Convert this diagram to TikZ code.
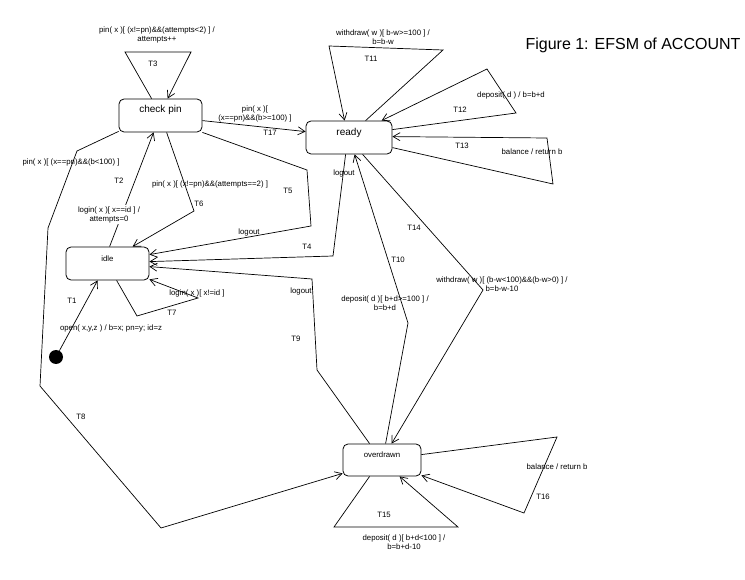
\documentclass[tikz,border=0pt]{standalone}
\usepackage{fontspec}
\setmainfont{Liberation Sans}
\usetikzlibrary{arrows.meta}
\begin{document}
\begin{tikzpicture}[x=1pt,y=-1pt,
  state/.style={draw, rounded corners=5pt, line width=0.8pt, inner sep=0pt},
  stxt/.style={font=\fontsize{10}{12}\selectfont, inner sep=0pt},
  stxs/.style={font=\fontsize{7.8}{9}\selectfont, inner sep=0pt},
  lbl/.style={font=\fontsize{7.8}{9}\selectfont, align=center, inner sep=0pt},
  tr/.style={line width=0.7pt, -{Straight Barb[length=7pt,width=8pt]}},
]
\useasboundingbox (0,0) rectangle (745,580);
% states
\node[state, minimum width=83pt, minimum height=33pt, label={[stxt, yshift=5.5pt]center:check pin}] (cp) at (160.5,115.5) {};
\node[state, minimum width=86pt, minimum height=33pt, label={[stxt, yshift=4.5pt]center:ready}] (rd) at (349,137.5) {};
\node[state, minimum width=83pt, minimum height=33pt, label={[stxs, yshift=4.5pt]center:idle}] (idle) at (107.5,263.5) {};
\node[state, minimum width=78pt, minimum height=32pt, label={[stxs, yshift=5pt]center:overdrawn}] (od) at (382,460) {};
\node[circle, fill, inner sep=0pt, minimum size=14pt] (init) at (56,357) {};
\node[font=\fontsize{16}{19}\selectfont, inner sep=0pt] (title) at (633,45) {Figure 1: EFSM of ACCOUNT};

% T1
\draw[tr] (init) -- ([xshift=32pt]idle.south west);
\node[lbl] (l1) at (111,328) {open( x,y,z ) / b=x; pn=y; id=z};
\node[lbl] (t1) at (72,301) {T1};
% T2
\draw[tr] ([xshift=44pt]idle.north west) -- ([xshift=35pt]cp.south west);
\node[lbl, fill=white, inner sep=1pt] (l2) at (109,214.5) {login( x )[ x==id ] /\\attempts=0};
\node[lbl] (t2) at (119,181) {T2};
% T3
\draw[tr] ([xshift=33pt]cp.north west) -- (125,52) -- (191,52) -- ([xshift=49pt]cp.north west);
\node[lbl] (l3) at (157,34.5) {pin( x )[ (x!=pn)\&\&(attempts<2) ] /\\attempts++};
\node[lbl] (t3) at (153,64) {T3};
% T4
\draw[tr] ([xshift=40pt]rd.south west) -- (333,256) -- ([yshift=-15pt]idle.north east);
\node[lbl] (l4) at (344,173) {logout};
\node[lbl] (t4) at (307,247) {T4};
% T5
\draw[tr] (cp.south east) -- (307,170) -- (311,226) -- ([yshift=-8pt]idle.north east);
\node[lbl] (l5) at (249,232) {logout};
\node[lbl] (t5) at (288,191) {T5};
% T6
\draw[tr] ([xshift=48pt]cp.south west) -- (194,211) -- ([xshift=67pt]idle.north west);
\node[lbl] (l6) at (210,184) {pin( x )[ (x!=pn)\&\&(attempts==2) ]};
\node[lbl] (t6) at (199,204) {T6};
% T7
\draw[tr] ([xshift=51pt]idle.south west) -- (137,316) -- (198,298) -- ([yshift=1pt]idle.south east);
\node[lbl] (l7) at (197,293) {login( x )[ x!=id ]};
\node[lbl] (t7) at (172,313) {T7};
% T8
\draw[tr] ([yshift=1pt]cp.south west) -- (77,151) -- (48,228) -- (40,386) -- (161,528) -- ([yshift=3pt]od.south west);
\node[lbl] (l8) at (71,162) {pin( x )[ (x==pn)\&\&(b<100) ]};
\node[lbl] (t8) at (81,417) {T8};
% T9
\draw[tr] ([xshift=27pt]od.north west) -- (317,370) -- (312,279) -- ([yshift=-20pt]idle.north east);
\node[lbl] (l9) at (301,291) {logout};
\node[lbl] (t9) at (296,339) {T9};
% T10
\draw[tr] ([xshift=43pt]od.north west) -- (408,323) -- ([xshift=49pt]rd.south west);
\node[lbl] (l10) at (385,303.5) {deposit( d )[ b+d>=100 ] /\\b=b+d};
\node[lbl] (t10) at (398,260) {T10};
% T11
\draw[tr] ([xshift=60pt]rd.north west) -- (443,50) -- (329,46) -- ([xshift=39pt]rd.north west);
\node[lbl] (l11) at (383,37.5) {withdraw( w )[ b-w>=100 ] /\\b=b-w};
\node[lbl] (t11) at (371,59) {T11};
% T12
\draw[tr] ([yshift=-9pt]rd.north east) -- (516,113) -- (487,69) -- ([xshift=76pt]rd.north west);
\node[lbl] (l12) at (511,95) {deposit( d ) / b=b+d};
\node[lbl] (t12) at (460,110) {T12};
% T13
\draw[tr] ([yshift=-27pt]rd.north east) -- (553,184) -- (547,138) -- ([yshift=-16pt]rd.north east);
\node[lbl] (l13) at (532,152) {balance / return b};
\node[lbl] (t13) at (462,146) {T13};
% T14
\draw[tr] ([xshift=57pt]rd.south west) -- (483,290) -- ([xshift=49pt]od.north west);
\node[lbl] (l14) at (502,284.5) {withdraw( w )[ (b-w<100)\&\&(b-w>0) ] /\\b=b-w-10};
\node[lbl] (t14) at (414,228) {T14};
% T15
\draw[tr] ([xshift=27pt]od.south west) -- (334,527) -- (458,527) -- ([xshift=57pt]od.south west);
\node[lbl] (l15) at (404,542.5) {deposit( d )[ b+d<100 ] /\\b=b+d-10};
\node[lbl] (t15) at (384,515) {T15};
% T16
\draw[tr] ([yshift=-11pt]od.north east) -- (557,437) -- (524,513) -- ([yshift=1pt]od.south east);
\node[lbl] (l16) at (557,467) {balance / return b};
\node[lbl] (t16) at (543,497) {T16};
% T17
\draw[tr] ([yshift=-22pt]cp.north east) -- ([yshift=-11pt]rd.north west);
\node[lbl] (l17) at (255,114) {pin( x )[\\(x==pn)\&\&(b>=100) ]};
\node[lbl] (t17) at (270,133) {T17};
\end{tikzpicture}
\end{document}
